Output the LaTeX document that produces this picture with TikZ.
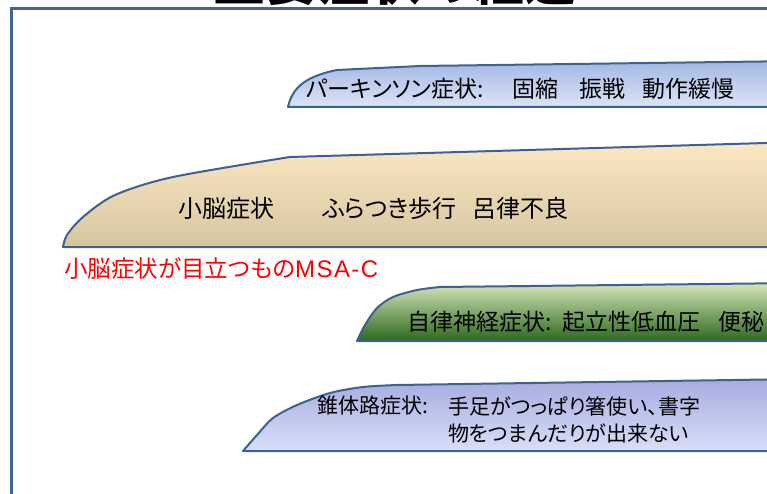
\documentclass[tikz,border=0pt]{standalone}
\usepackage{fontspec}
\newfontfamily\jp[RawFeature=+palt]{Noto Sans CJK JP}
\newfontfamily\lat{Liberation Sans}
\definecolor{edge}{HTML}{3D6190}
\definecolor{frame}{HTML}{3F6597}
\definecolor{parktop}{HTML}{A3B7E3}
\definecolor{parkbot}{HTML}{DCE5F7}
\definecolor{tantop}{HTML}{FCE8C2}
\definecolor{tanmid}{HTML}{F3EAD5}
\definecolor{tanbot}{HTML}{D6C6A0}
\definecolor{grntop}{HTML}{D6E5BC}
\definecolor{grnmid}{HTML}{93B96E}
\definecolor{grnbot}{HTML}{2C6A1B}
\definecolor{lavtop}{HTML}{A6ACDF}
\definecolor{lavbot}{HTML}{D8DFF8}
\definecolor{redtxt}{HTML}{FF0000}
\begin{document}
\begin{tikzpicture}[x=1pt,y=-1pt,
  band/.style={draw=edge, line width=2pt, line join=round},
  lbl/.style={anchor=west, inner sep=0pt, font=\jp\fontsize{#1}{#1}\selectfont}]
\useasboundingbox (0,0) rectangle (767,494);
\clip (0,0) rectangle (767,494);
% title (only its lower edge is visible)
\node[anchor=base, inner sep=0pt, font=\jp\bfseries\fontsize{52}{52}\selectfont] (title) at (395,1) {主要症状の経過};
% frame
\draw[frame, line width=3pt] (11,520) -- (11,9) -- (790,9);
% Parkinson band
\path[band, top color=parktop, bottom color=parkbot]
  (800,107) -- (288,107) .. controls (292,90) and (302,77) .. (337,70) -- (420,66) -- (800,61) -- cycle;
% cerebellar band
\path[band, top color=tantop, middle color=tanmid, bottom color=tanbot]
  (800,247) -- plot[smooth, tension=0.5] coordinates {(63,247) (67,235) (83,217) (115,195) (173,177) (290,157)} -- (800,142) -- cycle;
% autonomic band
\path[band, top color=grntop, middle color=grnmid, bottom color=grnbot]
  (800,341) -- plot[smooth, tension=0.5] coordinates {(357,341) (365,325) (377,308) (393,297) (417,290) (440,287)} -- (800,283) -- cycle;
% pyramidal band
\path[band, top color=lavtop, bottom color=lavbot]
  (800,451) -- plot[smooth, tension=0.5] coordinates {(243,451) (257,435) (273,418) (297,405) (330,393) (363,387) (397,385)} -- (800,379) -- cycle;
% texts
\node[lbl=23] (pk) at (306,89) {パーキンソン症状:};
\node[lbl=23] (pk1) at (512,89) {固縮};
\node[lbl=23] (pk2) at (579,89) {振戦};
\node[lbl=23] (pk3) at (642,89) {動作緩慢};
\node[lbl=24] (cb) at (178,208) {小脳症状};
\node[lbl=24] (cb1) at (322,208) {ふらつき歩行};
\node[lbl=24] (cb2) at (472,208) {呂律不良};
\node[lbl=23.5, text=redtxt] (msa) at (64,269) {小脳症状が目立つもの{\lat\addfontfeatures{LetterSpace=6}\fontsize{24}{24}\selectfont MSA-C}};
\node[lbl=23] (au) at (407,322) {自律神経症状:};
\node[lbl=23] (au0) at (562,322) {起立性低血圧};
\node[lbl=23] (au1) at (718,322) {便秘};
\node[lbl=21] (py) at (317,406) {錐体路症状:};
\node[lbl=21] (py1) at (448,406) {手足がつっぱり箸使い、書字};
\node[lbl=21] (py2) at (448,433) {物をつまんだりが出来ない};
\end{tikzpicture}
\end{document}
